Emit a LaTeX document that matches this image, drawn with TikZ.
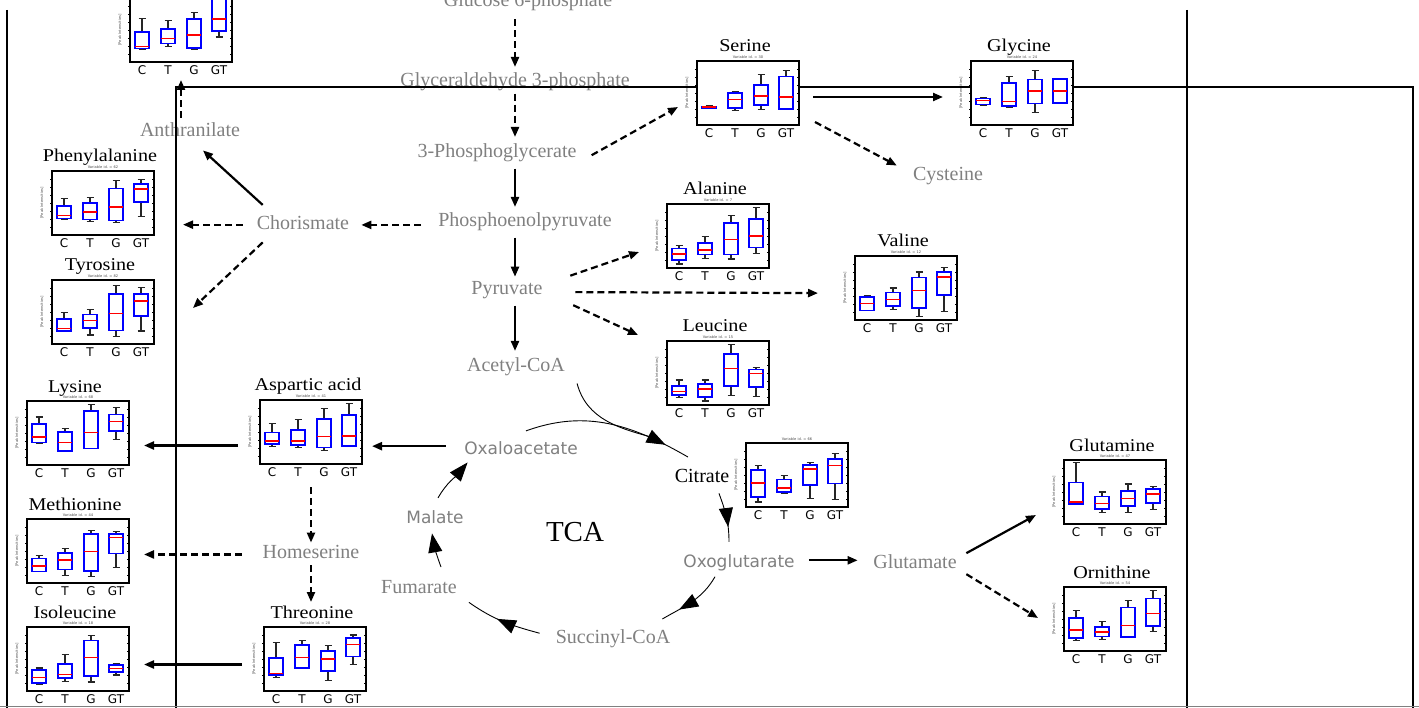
\documentclass[tikz,border=0pt]{standalone}
\usepackage{graphicx}
\usepackage{fontspec}
\setmainfont{Liberation Serif}
\newfontfamily\dejavu{DejaVu Sans}
\usetikzlibrary{arrows.meta,calc,decorations.markings}
\definecolor{metgray}{RGB}{128,128,128}
\definecolor{boxblue}{RGB}{0,0,255}
\definecolor{medred}{RGB}{255,0,0}

% box plot: name, top-left corner of frame, title, id line, lo/q1/med/q3/hi per group
\newcommand{\bplot}[5]{%
  \begin{scope}[shift={#2}]
    \node[plotframe] (#1) at (51,-32) {};
    \node[plottitle] at (48,9) {\scalebox{1.12}[1]{#3}};
    \node[plotid] at (51,3.5) {#4};
    \node[plotylab] at (-10,-32) {[Peak Intensities]};
    \foreach \k in {1,...,7}
      \draw[plottick] (0,-8*\k) -- ++(-2,0) (102,-8*\k) -- ++(-2,0);
    \foreach \cx/\wl/\qa/\md/\qb/\wh in {#5} {
      \draw[whisk] (\cx,{64*(\qb-1)}) -- (\cx,{64*(\wh-1)}) ++(-3.5,0) -- ++(7,0);
      \draw[whisk] (\cx,{64*(\qa-1)}) -- (\cx,{64*(\wl-1)}) ++(-3.5,0) -- ++(7,0);
      \draw[qbox] (\cx-7,{64*(\qa-1)}) rectangle (\cx+7,{64*(\qb-1)});
      \draw[medline] (\cx-7,{64*(\md-1)}) -- (\cx+7,{64*(\md-1)});
    }
    \foreach \g/\cx in {C/12,T/38,G/64,GT/89}
      \node[grplab] at (\cx,-72) {\g};
  \end{scope}}

\begin{document}
\begin{tikzpicture}[x=1pt, y=1pt,
    metab/.style={anchor=base, inner sep=2pt, text=metgray, font=\fontsize{20}{24}\selectfont},
    metabsf/.style={metab, font=\dejavu\fontsize{17}{20}\selectfont},
    plotframe/.style={draw, line width=1.8pt, minimum width=102pt, minimum height=64pt, inner sep=0pt, outer sep=0pt},
    plottitle/.style={anchor=base, inner sep=0pt, font=\fontsize{18}{21}\selectfont},
    plotid/.style={inner sep=0pt, text=black!70, font=\dejavu\fontsize{3.6}{4}\selectfont},
    plotylab/.style={rotate=90, inner sep=0pt, text=black!70, font=\dejavu\fontsize{3.6}{4}\selectfont},
    plottick/.style={line width=0.5pt},
    whisk/.style={black!85, line width=1.1pt},
    qbox/.style={draw=boxblue, line width=1.7pt},
    medline/.style={medred, line width=1.5pt},
    grplab/.style={inner sep=0pt, font=\dejavu\fontsize{12}{14}\selectfont},
    spath/.style={line width=2.2pt, -{Triangle[length=10pt,width=8pt]}},
    dpath/.style={spath, dash pattern=on 7pt off 4pt},
    vchain/.style={shorten <=4pt, shorten >=4pt},
    tcaline/.style={line width=0.9pt},
    tcatip/.style={-{Triangle[length=19pt,width=14pt]}},
    tcamark/.style={postaction={decorate}, decoration={markings,
        mark=at position #1 with {\arrow{Triangle[length=19pt,width=14pt]}}}},
    frameline/.style={line width=2pt}]
\useasboundingbox (0,0) rectangle (1419,-708);
\clip (0,0) rectangle (1419,-708);

% metabolites
\node[metab] (glc) at (528,-7) {Glucose 6-phosphate};
\node[metab] (g3p) at (515,-87) {Glyceraldehyde 3-phosphate};
\node[metab] (pg3) at (497,-158) {3-Phosphoglycerate};
\node[metab] (pep) at (525,-227) {Phosphoenolpyruvate};
\node[metab] (pyr) at (507,-295) {Pyruvate};
\node[metab] (acoa) at (516,-372) {Acetyl-CoA};
\node[metab] (anth) at (190,-137) {Anthranilate};
\node[metab] (chor) at (303,-230) {Chorismate};
\node[metab] (cys) at (948,-181) {Cysteine};
\node[metab] (hom) at (311,-558) {Homeserine};
\node[metab] (fum) at (419,-593) {Fumarate};
\node[metab] (scoa) at (613,-643) {Succinyl-CoA};
\node[metab] (glu) at (915,-568) {Glutamate};
\node[metabsf] (oaa) at (521,-454) {Oxaloacetate};
\node[metabsf] (mal) at (435,-523) {Malate};
\node[metabsf] (oxo) at (739,-567) {Oxoglutarate};
\node[metab, text=black] (cit) at (702,-482) {Citrate};
\node[anchor=base, font=\fontsize{29}{32}\selectfont] (tca) at (575,-541) {TCA};

% box plots
\bplot{trp}{(130,2)}{}{}{12/.20/.21/.24/.47/.68, 38/.245/.29/.37/.52/.645, 64/.19/.22/.42/.67/.78, 89/.39/.48/.67/1.05/1.12}
\bplot{ser}{(697,-61)}{Serine}{Variable id. = 30}{12/.26/.27/.28/.29/.30, 38/.22/.27/.40/.50/.53, 64/.24/.31/.45/.63/.79, 89/.25/.25/.44/.76/.85}
\bplot{gly}{(971,-61)}{Glycine}{Variable id. = 24}{12/.30/.32/.38/.415/.43, 38/.28/.30/.37/.66/.755, 64/.20/.335/.53/.71/.85, 89/.345/.345/.53/.72/.73}
\bplot{phe}{(52,-171)}{Phenylalanine}{Variable id. = 62}{12/.243/.259/.306/.456/.57, 38/.207/.243/.36/.50/.58, 64/.19/.228/.44/.725/.855, 89/.29/.513/.72/.80/.865}
\bplot{tyr}{(52,-280)}{Tyrosine}{Variable id. = 82}{12/.203/.203/.245/.39/.49, 38/.14/.245/.37/.46/.54, 64/.115/.21/.48/.78/.92, 89/.203/.44/.67/.78/.885}
\bplot{ala}{(667,-204)}{Alanine}{Variable id. = 7}{12/.062/.124/.22/.305/.345, 38/.15/.21/.284/.387/.49, 64/.14/.21/.448/.705/.82, 89/.23/.32/.50/.77/.95}
\bplot{leu}{(667,-341)}{Leucine}{Variable id. = 15}{12/.114/.155/.21/.30/.39, 38/.062/.13/.25/.33/.39, 64/.145/.30/.57/.80/.94, 89/.13/.285/.49/.555/.58}
\bplot{val}{(855,-256)}{Valine}{Variable id. = 12}{12/.15/.15/.26/.36/.375, 38/.16/.22/.32/.43/.50, 64/.05/.19/.46/.665/.75, 89/.13/.39/.67/.75/.816}
\bplot{lys}{(27,-401)}{Lysine}{Variable id. = 68}{12/.34/.35/.44/.64/.75, 38/.215/.215/.35/.52/.565, 64/.26/.26/.51/.84/.94, 89/.40/.53/.68/.79/.90}
\bplot{asp}{(260,-400)}{Aspartic acid}{Variable id. = 41}{12/.28/.31/.36/.49/.63, 38/.26/.30/.36/.53/.70, 64/.21/.26/.43/.70/.87, 89/.27/.28/.44/.77/.95}
\bplot{met}{(27,-519)}{Methionine}{Variable id. = 44}{12/.18/.18/.265/.385/.43, 38/.115/.21/.36/.47/.54, 64/.10/.19/.49/.77/.82, 89/.24/.46/.71/.77/.81}
\bplot{ile}{(27,-627)}{Isoleucine}{Variable id. = 18}{12/.11/.124/.21/.325/.36, 38/.145/.20/.26/.42/.57, 64/.14/.235/.52/.79/.865, 89/.25/.30/.35/.41/.43}
\bplot{thr}{(264,-627)}{Threonine}{Variable id. = 28}{12/.21/.245/.27/.52/.76, 38/.36/.36/.52/.715/.79, 64/.17/.31/.50/.62/.71, 89/.42/.54/.73/.83/.875}
\bplot{citplot}{(746,-443)}{}{Variable id. = 66}{12/.078/.16/.375/.58/.65, 38/.21/.234/.30/.43/.49, 64/.13/.34/.59/.66/.70, 89/.115/.365/.646/.755/.83}
\bplot{gln}{(1064,-460)}{Glutamine}{Variable id. = 47}{12/.31/.31/.34/.65/.96, 38/.18/.23/.32/.43/.50, 64/.175/.28/.40/.52/.625, 89/.225/.33/.47/.545/.59}
\bplot{orn}{(1064,-587)}{Ornithine}{Variable id. = 54}{12/.16/.205/.33/.52/.63, 38/.175/.225/.295/.38/.46, 64/.22/.22/.40/.68/.795, 89/.305/.395/.585/.82/.95}

% glycolysis chain
\path[dpath, vchain, shorten <=6pt] (g3p.south |- glc.south) edge (g3p.south |- g3p.north);
\path[dpath, vchain, shorten <=0pt, shorten >=5pt] (g3p.south) edge (g3p.south |- pg3.north);
\path[spath, vchain] (g3p.south |- pg3.south) edge (g3p.south |- pep.north);
\path[spath, vchain, shorten >=3pt] (g3p.south |- pep.south) edge (g3p.south |- pyr.north);
\path[spath, vchain, shorten >=5pt] (g3p.south |- pyr.south) edge (g3p.south |- acoa.north);

% side branches
\path[dpath] ($(pg3.east)+(13,-2)$) edge ($(ser.west)+(-19,-14)$);
\path[spath] ($(ser.east)+(14,-4)$) edge ($(gly.west)+(-28,-4)$);
\path[dpath] ($(ser.south east)+(16,3)$) edge ($(cys.north west)+(-14,0)$);
\path[dpath] ($(pep.west)+(-15,-2.7)$) edge ($(chor.east |- pep.west)+(10,-2.7)$);
\path[spath] ($(chor.north west)+(8,9)$) edge ($(anth.south)+(13,-11)$);
\path[dpath] ($(chor.west)+(-12,-1.5)$) edge ($(phe.east |- chor.west)+(29,-1.5)$);
\path[dpath] ($(chor.south west)+(8,-10)$) edge ($(tyr.north east)+(39,-28)$);
\path[dpath] ($(trp.south |- anth.north)+(0,3)$) edge ($(trp.south)+(0,-18)$);
\path[dpath] ($(pyr.north east)+(25.5,4)$) edge ($(ala.west)+(-28,-16)$);
\path[dpath] ($(pyr.east)+(30.5,-1.5)$) edge ($(val.west |- pyr.east)+(-37,-2.5)$);
\path[dpath] ($(pyr.south east)+(28.5,-3.7)$) edge ($(leu.west)+(-29,38)$);
\path[spath] ($(oaa.west)+(-16.5,1.5)$) edge ($(asp.east |- oaa.west)+(10,1.5)$);
\path[spath] ($(asp.west)+(-22,-13.5)$) edge ($(lys.east |- asp.west)+(15,-13.5)$);
\path[dpath] ($(asp.south)+(0,-23)$) edge (hom.north);
\path[dpath, shorten <=5pt] (hom.south) edge ($(hom.south |- thr.north)+(0,25)$);
\path[dpath] ($(hom.west)+(-18.7,-3)$) edge ($(met.east |- hom.west)+(15,-3)$);
\path[spath] ($(thr.west)+(-22,-5.5)$) edge ($(ile.east |- thr.west)+(15,-5.5)$);
\path[spath] ($(oxo.east)+(12,2)$) edge ($(glu.west |- oxo.east)+(-13.5,2)$);
\path[spath] ($(glu.east)+(7.5,8)$) edge ($(gln.west)+(-28,-23)$);
\path[dpath] ($(glu.east)+(7.5,-13)$) edge ($(orn.west)+(-26,1)$);

% TCA cycle
\draw[tcaline, tcamark=0.85] ($(oaa.north)+(5,8)$) to[out=20, in=150] ($(cit.north)+(-14,9.5)$);
\draw[tcaline] ($(acoa.south east)+(10,-5)$) to[out=-75, in=165] ($(cit.north)+(-47,28.5)$);
\draw[tcaline, tcamark=0.7] ($(cit.south)+(17,-9)$) to[out=-70, in=90] ($(oxo.north)+(-10,10)$);
\draw[tcaline, tcamark=0.72] ($(oxo.south)+(-24,-4)$) to[out=-120, in=30] ($(scoa.north east)+(-10,8)$);
\draw[tcaline, tcamark=0.58] ($(scoa.west)+(-14,5)$) to[out=165, in=-35] ($(fum.south east)+(10,-7)$);
\draw[tcaline, tcatip] ($(fum.north)+(22,10.7)$) to[out=110, in=-80] ($(mal.south)+(-3,-8)$);
\draw[tcaline, tcatip] ($(mal.north)+(3,10)$) to[out=60, in=-130] ($(oaa.south west)+(5.5,-6)$);

% frame lines
\draw[frameline] (7,-10) -- (7,-708);
\draw[frameline] (176,-708) -- (176,-87) -- (697,-87);
\draw[frameline] (799,-87) -- (971,-87);
\draw[frameline] (1073,-87) -- (1413,-87) -- (1413,-708);
\draw[frameline] (1187,-10) -- (1187,-708);
\draw[gray, line width=1.2pt] (0,-706.8) -- (1419,-706.8);
\end{tikzpicture}
\end{document}
